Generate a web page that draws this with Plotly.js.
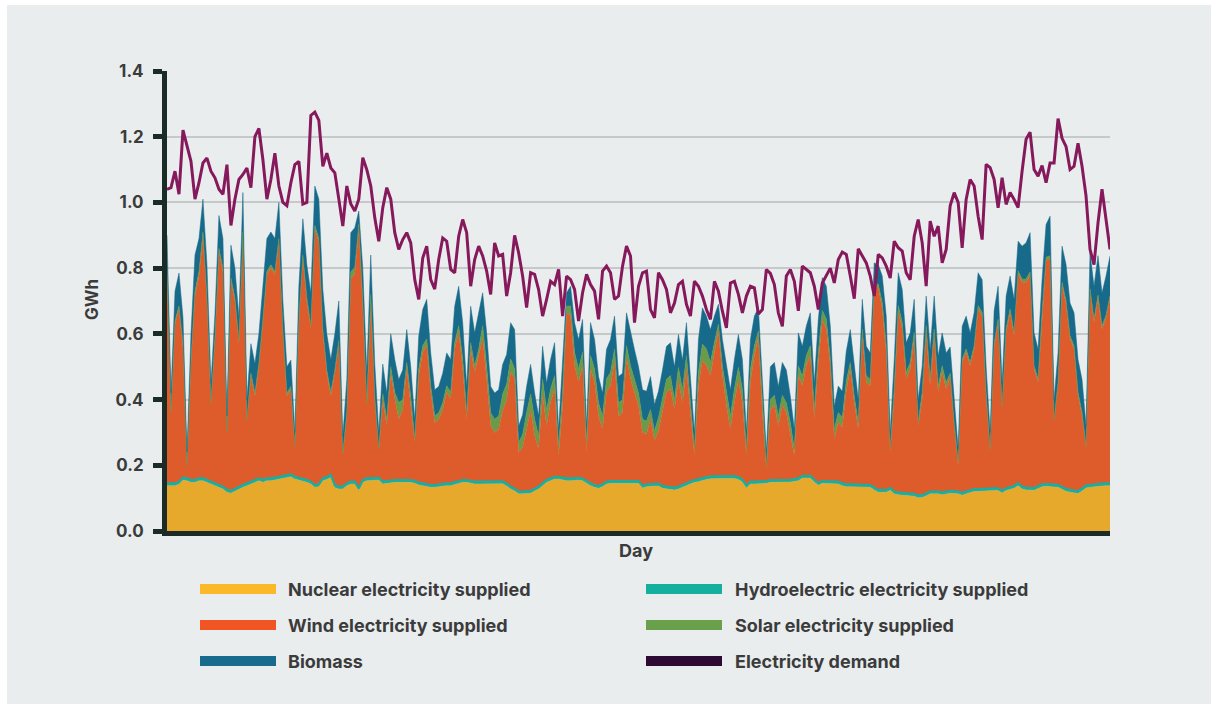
<!DOCTYPE html>
<html>
<head>
<meta charset="utf-8">
<script src="https://cdn.plot.ly/plotly-3.0.1.min.js"></script>
<style>
  html, body { margin: 0; padding: 0; background: #ffffff; width: 1211px; height: 704px; overflow: hidden; }
  #chart { position: absolute; left: 7px; top: 5px; width: 1204px; height: 699px; background: #e9edee; }
</style>
</head>
<body>
<div id="chart"></div>
<script>
// ---- Data (GWh per day) ----
const nuclear = [
  0.138,0.138,0.138,0.142,0.155,0.153,0.148,0.148,0.153,0.153,0.148,0.143,0.138,0.133,0.128,0.118,0.115,0.121,0.128,0.133,0.138,0.143,0.148,0.153,0.148,0.153,0.153,0.155,0.158,0.161,0.163,0.165,0.158,0.155,0.153,0.148,0.143,0.133,0.135,
  0.153,0.157,0.163,0.132,0.128,0.128,0.138,0.143,0.143,0.123,0.148,0.153,0.153,0.153,0.155,0.143,0.145,0.148,0.148,0.148,0.148,0.148,0.148,0.145,0.140,0.138,0.135,0.133,0.133,0.135,0.137,0.138,0.138,0.142,0.145,0.148,0.148,0.145,0.143,0.143,
  0.143,0.143,0.144,0.144,0.144,0.144,0.137,0.128,0.122,0.113,0.113,0.114,0.115,0.122,0.128,0.138,0.148,0.153,0.158,0.158,0.155,0.153,0.153,0.154,0.155,0.153,0.145,0.138,0.133,0.130,0.135,0.143,0.145,0.145,0.145,0.145,0.145,0.145,0.145,0.145,
  0.131,0.135,0.136,0.137,0.137,0.130,0.128,0.125,0.125,0.128,0.133,0.138,0.143,0.148,0.150,0.154,0.157,0.159,0.160,0.160,0.160,0.160,0.160,0.160,0.157,0.149,0.131,0.143,0.143,0.143,0.143,0.145,0.148,0.148,0.148,0.148,0.148,0.149,0.151,0.153,
  0.161,0.161,0.161,0.149,0.139,0.145,0.145,0.144,0.143,0.143,0.138,0.135,0.135,0.135,0.135,0.134,0.133,0.133,0.125,0.118,0.118,0.118,0.124,0.113,0.110,0.109,0.107,0.106,0.106,0.101,0.102,0.107,0.113,0.113,0.113,0.110,0.112,0.115,0.114,0.113,
  0.109,0.114,0.117,0.120,0.121,0.122,0.123,0.123,0.123,0.123,0.116,0.123,0.126,0.130,0.138,0.128,0.125,0.124,0.124,0.129,0.135,0.136,0.136,0.134,0.133,0.127,0.121,0.118,0.115,0.114,0.122,0.131,0.133,0.135,0.136,0.137,0.138,0.138
];

const hydro = [
  0.007,0.007,0.007,0.007,0.007,0.007,0.007,0.007,0.007,0.007,0.007,0.007,0.007,0.007,0.007,0.007,0.007,0.007,0.007,0.007,0.007,0.007,0.007,0.007,0.007,0.007,0.007,0.007,0.007,0.007,0.007,0.007,0.007,0.007,0.007,0.007,0.007,0.007,0.007,
  0.007,0.007,0.007,0.007,0.007,0.007,0.007,0.007,0.007,0.007,0.007,0.007,0.007,0.007,0.007,0.007,0.007,0.007,0.007,0.007,0.007,0.007,0.007,0.007,0.007,0.007,0.007,0.007,0.007,0.007,0.007,0.007,0.007,0.007,0.007,0.007,0.007,0.007,0.007,0.007,
  0.007,0.007,0.007,0.007,0.007,0.007,0.007,0.007,0.007,0.007,0.007,0.007,0.007,0.007,0.007,0.007,0.007,0.007,0.007,0.007,0.007,0.007,0.007,0.007,0.007,0.007,0.007,0.007,0.007,0.007,0.007,0.007,0.007,0.007,0.007,0.007,0.007,0.007,0.007,0.007,
  0.007,0.007,0.007,0.007,0.007,0.007,0.007,0.007,0.007,0.007,0.007,0.007,0.007,0.007,0.007,0.007,0.007,0.007,0.007,0.007,0.007,0.007,0.007,0.007,0.007,0.007,0.007,0.007,0.007,0.007,0.007,0.007,0.007,0.007,0.007,0.007,0.007,0.007,0.007,0.007,
  0.007,0.007,0.007,0.007,0.007,0.007,0.007,0.007,0.007,0.007,0.007,0.007,0.007,0.007,0.007,0.007,0.007,0.007,0.007,0.007,0.007,0.007,0.007,0.007,0.007,0.007,0.007,0.007,0.007,0.007,0.007,0.007,0.007,0.007,0.007,0.007,0.007,0.007,0.007,0.007,
  0.007,0.007,0.007,0.007,0.007,0.007,0.007,0.007,0.007,0.007,0.007,0.007,0.007,0.007,0.007,0.007,0.007,0.007,0.007,0.007,0.007,0.007,0.007,0.007,0.007,0.007,0.007,0.007,0.007,0.007,0.007,0.007,0.007,0.007,0.007,0.007,0.007,0.007
];

const wind = [
  0.645,0.21,0.485,0.526,0.398,0.035,0.355,0.56,0.615,0.735,0.545,0.235,0.435,0.71,0.655,0.17,0.638,0.572,0.435,0.76,0.19,0.32,0.255,0.34,0.48,0.62,0.64,0.618,0.715,0.432,0.24,0.258,0.09,0.473,0.67,0.545,0.465,0.78,0.738,
  0.445,0.315,0.242,0.341,0.435,0.098,0.206,0.618,0.633,0.794,0.525,0.22,0.53,0.238,0.083,0.248,0.168,0.325,0.247,0.186,0.215,0.338,0.235,0.117,0.326,0.399,0.423,0.282,0.19,0.198,0.226,0.277,0.257,0.405,0.453,0.339,0.185,0.402,0.333,0.384,
  0.435,0.313,0.169,0.149,0.159,0.216,0.253,0.349,0.334,0.119,0.134,0.189,0.245,0.161,0.115,0.267,0.165,0.232,0.268,0.063,0.218,0.505,0.495,0.343,0.291,0.344,0.087,0.349,0.313,0.213,0.168,0.273,0.291,0.362,0.198,0.208,0.372,0.311,0.27,0.228,
  0.162,0.153,0.197,0.131,0.161,0.223,0.287,0.301,0.238,0.323,0.25,0.349,0.21,0.075,0.286,0.358,0.34,0.307,0.377,0.443,0.306,0.215,0.143,0.225,0.294,0.236,0.092,0.303,0.384,0.439,0.21,0.038,0.215,0.228,0.165,0.228,0.205,0.144,0.072,0.313,
  0.274,0.336,0.366,0.184,0.368,0.489,0.463,0.353,0.13,0.181,0.17,0.285,0.351,0.248,0.168,0.454,0.312,0.302,0.614,0.616,0.551,0.419,0.109,0.29,0.549,0.499,0.349,0.38,0.472,0.212,0.293,0.491,0.322,0.475,0.302,0.366,0.313,0.348,0.199,0.08,
  0.397,0.423,0.379,0.427,0.548,0.526,0.28,0.115,0.43,0.505,0.252,0.475,0.533,0.458,0.637,0.622,0.625,0.647,0.362,0.317,0.513,0.68,0.685,0.194,0.303,0.613,0.563,0.459,0.432,0.291,0.222,0.117,0.587,0.493,0.565,0.471,0.501,0.562
];

const solar = [
  0.01,0.005,0.01,0.01,0.01,0.005,0.01,0.015,0.015,0.015,0.01,0.005,0.01,0.01,0.01,0.005,0.01,0.01,0.01,0.01,0.005,0.01,0.01,0.01,0.01,0.01,0.01,0.01,0.01,0.01,0.01,0.01,0.005,0.01,0.01,0.01,0.01,0.01,0.01,
  0.01,0.01,0.01,0.01,0.01,0.005,0.01,0.02,0.02,0.01,0.02,0.01,0.03,0.01,0.005,0.02,0.02,0.02,0.02,0.05,0.03,0.02,0.02,0.01,0.02,0.02,0.02,0.02,0.02,0.02,0.02,0.02,0.02,0.02,0.02,0.03,0.02,0.02,0.02,0.02,
  0.04,0.04,0.04,0.04,0.04,0.05,0.05,0.04,0.03,0.03,0.04,0.05,0.05,0.05,0.04,0.05,0.05,0.04,0.04,0.03,0.04,0.02,0.03,0.04,0.04,0.04,0.03,0.04,0.04,0.04,0.04,0.04,0.04,0.04,0.04,0.04,0.04,0.04,0.04,0.04,
  0.04,0.04,0.03,0.03,0.04,0.04,0.04,0.04,0.03,0.04,0.04,0.04,0.03,0.02,0.04,0.05,0.05,0.04,0.03,0.02,0.03,0.04,0.04,0.04,0.04,0.04,0.02,0.04,0.03,0.02,0.03,0.01,0.03,0.03,0.03,0.03,0.03,0.03,0.02,0.03,
  0.03,0.03,0.03,0.03,0.03,0.03,0.03,0.02,0.03,0.03,0.03,0.03,0.02,0.02,0.02,0.02,0.02,0.02,0.01,0.01,0.02,0.02,0.01,0.02,0.02,0.02,0.02,0.02,0.02,0.01,0.02,0.02,0.02,0.02,0.02,0.02,0.02,0.01,0.01,0.01,
  0.01,0.01,0.01,0.01,0.01,0.01,0.01,0.005,0.01,0.01,0.005,0.01,0.01,0.01,0.01,0.01,0.01,0.01,0.01,0.01,0.01,0.01,0.01,0.005,0.01,0.01,0.01,0.01,0.01,0.01,0.01,0.005,0.01,0.01,0.01,0.01,0.01,0.01
];

const biomass = [
  0.10,0.06,0.09,0.10,0.08,0.04,0.08,0.11,0.10,0.10,0.10,0.06,0.07,0.10,0.09,0.05,0.10,0.09,0.07,0.12,0.06,0.09,0.09,0.09,0.10,0.10,0.10,0.10,0.11,0.09,0.08,0.08,0.04,0.10,0.11,0.10,0.10,0.12,0.12,
  0.12,0.11,0.10,0.11,0.12,0.05,0.10,0.12,0.12,0.04,0.10,0.09,0.12,0.10,0.05,0.09,0.08,0.10,0.10,0.07,0.09,0.10,0.09,0.06,0.10,0.11,0.12,0.10,0.08,0.08,0.09,0.10,0.10,0.11,0.12,0.11,0.08,0.11,0.10,0.11,
  0.10,0.10,0.08,0.08,0.08,0.09,0.09,0.11,0.12,0.05,0.06,0.08,0.09,0.08,0.06,0.10,0.08,0.09,0.10,0.05,0.08,0.04,0.06,0.09,0.09,0.10,0.05,0.10,0.09,0.08,0.07,0.09,0.10,0.10,0.08,0.08,0.10,0.10,0.09,0.08,
  0.09,0.09,0.10,0.08,0.08,0.09,0.10,0.10,0.10,0.10,0.09,0.10,0.09,0.05,0.10,0.11,0.10,0.10,0.08,0.06,0.08,0.09,0.08,0.09,0.10,0.09,0.05,0.09,0.09,0.07,0.08,0.04,0.10,0.10,0.09,0.10,0.10,0.08,0.06,0.10,
  0.09,0.09,0.10,0.08,0.10,0.10,0.10,0.10,0.07,0.08,0.08,0.09,0.10,0.09,0.07,0.09,0.09,0.08,0.06,0.06,0.08,0.09,0.05,0.09,0.10,0.10,0.09,0.09,0.10,0.07,0.08,0.09,0.09,0.10,0.09,0.10,0.09,0.08,0.07,0.04,
  0.10,0.10,0.09,0.10,0.10,0.10,0.08,0.05,0.10,0.10,0.07,0.10,0.10,0.10,0.09,0.10,0.11,0.12,0.10,0.09,0.10,0.10,0.12,0.06,0.09,0.11,0.11,0.10,0.10,0.10,0.10,0.06,0.11,0.10,0.12,0.10,0.12,0.12
];

const demand = [
  1.04,1.045,1.095,1.025,1.22,1.17,1.125,1.01,1.06,1.12,1.135,1.095,1.075,1.04,1.025,1.115,0.93,1.01,1.07,1.085,1.105,1.045,1.20,1.225,1.13,1.01,1.07,1.15,1.05,1.0,0.99,1.06,1.115,1.125,0.995,1.0,1.265,1.275,1.25,
  1.11,1.15,1.105,1.09,1.01,0.928,1.05,0.995,0.974,1.01,1.136,1.10,1.05,0.953,0.882,0.984,1.045,1.01,0.908,0.857,0.887,0.908,0.877,0.765,0.705,0.831,0.867,0.765,0.736,0.826,0.892,0.882,0.796,0.786,0.897,0.948,0.908,0.745,0.826,0.867,
  0.837,0.791,0.72,0.877,0.837,0.842,0.715,0.786,0.90,0.847,0.776,0.68,0.786,0.781,0.735,0.654,0.705,0.76,0.75,0.796,0.654,0.776,0.765,0.735,0.639,0.725,0.781,0.75,0.73,0.644,0.791,0.806,0.786,0.705,0.715,0.806,0.867,0.837,0.634,0.745,
  0.786,0.791,0.674,0.649,0.786,0.765,0.735,0.664,0.694,0.75,0.76,0.69,0.654,0.76,0.745,0.715,0.674,0.644,0.76,0.73,0.669,0.618,0.755,0.76,0.72,0.664,0.715,0.745,0.74,0.66,0.674,0.796,0.784,0.75,0.664,0.623,0.776,0.796,0.76,0.67,
  0.806,0.796,0.786,0.745,0.674,0.755,0.776,0.80,0.755,0.826,0.849,0.842,0.776,0.707,0.859,0.836,0.816,0.776,0.715,0.842,0.831,0.806,0.77,0.882,0.862,0.852,0.786,0.765,0.897,0.948,0.877,0.745,0.943,0.897,0.928,0.816,0.857,0.99,1.03,1.0,
  0.862,1.009,1.07,1.05,0.958,0.887,1.116,1.106,1.07,0.984,1.075,0.994,1.03,1.009,0.984,1.095,1.192,1.214,1.10,1.08,1.112,1.06,1.12,1.12,1.255,1.195,1.17,1.10,1.11,1.18,1.11,1.02,0.857,0.811,0.938,1.04,0.948,0.857
];

const yTicks = [0, 0.2, 0.4, 0.6, 0.8, 1.0, 1.2, 1.4];
const yTickLabels = ['0.0', '0.2', '0.4', '0.6', '0.8', '1.0', '1.2', '1.4'];

const seriesNames = [
  'Nuclear electricity supplied', 'Hydroelectric electricity supplied',
  'Wind electricity supplied', 'Solar electricity supplied',
  'Biomass', 'Electricity demand'
];

// ---- Styling ----
const days = demand.map((_, i) => i + 1);
const fillCols = { nuclear: '#e7a92c', hydro: '#19aea0', wind: '#de5b2c', solar: '#6a9b46', biomass: '#176a8a' };
const swatchCols = ['#fbb829', '#14b09f', '#f05523', '#6aa04c', '#176b8d', '#2d0a33'];
const demandCol = '#86195b';
const axisCol = '#1b2c27';
const textCol = '#3b3b3b';
const FONT = 'Inter, Roboto, "Open Sans", Arial, sans-serif';

function area(name, y, col, lw, lc) {
  return {
    x: days, y: y, name: name, type: 'scatter', mode: 'lines',
    stackgroup: 'supply', fillcolor: col,
    line: { color: lc || col, width: lw, shape: 'linear' },
    hoverinfo: 'skip'
  };
}

const traces = [
  area(seriesNames[0], nuclear, fillCols.nuclear, 0.5),
  area(seriesNames[1], hydro, fillCols.hydro, 2.2),
  area(seriesNames[2], wind, fillCols.wind, 0.5),
  area(seriesNames[3], solar, fillCols.solar, 0.5),
  area(seriesNames[4], biomass, fillCols.biomass, 0.5),
  { x: days, y: demand, name: seriesNames[5], type: 'scatter', mode: 'lines',
    line: { color: demandCol, width: 3 }, hoverinfo: 'skip' }
];

// page-pixel helpers (div is offset 7,5 inside the page)
const W = 1204, H = 699, M = { l: 160, r: 101, t: 66, b: 173 };
const PW = W - M.l - M.r, PH = H - M.t - M.b;
const px = x => (x - 7 - M.l) / PW;
const py = y => 1 - (y - 5 - M.t) / PH;

const shapes = [];
const annotations = [];
const cols = [[200, 276, 286], [646, 722, 733]];
const rows = [589, 625, 661];
seriesNames.forEach((nm, i) => {
  const c = cols[i % 2], r = rows[Math.floor(i / 2)];
  shapes.push({ type: 'rect', xref: 'paper', yref: 'paper',
    x0: px(c[0]), x1: px(c[1]), y0: py(r + 5), y1: py(r - 5),
    fillcolor: swatchCols[i], line: { width: 0 } });
  annotations.push({ xref: 'paper', yref: 'paper', x: px(c[2]), y: py(r),
    xanchor: 'left', yanchor: 'middle', showarrow: false, text: nm,
    font: { family: FONT, size: 18, color: textCol, weight: 'bold' } });
});
annotations.push({ xref: 'paper', yref: 'paper', x: px(92), y: py(300), textangle: -90,
  xanchor: 'center', yanchor: 'middle', showarrow: false, text: 'GWh',
  font: { family: FONT, size: 17, color: textCol, weight: 'bold' } });
annotations.push({ xref: 'paper', yref: 'paper', x: px(636), y: py(550),
  xanchor: 'center', yanchor: 'middle', showarrow: false, text: 'Day',
  font: { family: FONT, size: 18, color: textCol, weight: 'bold' } });

const layout = {
  width: W, height: H,
  margin: M,
  paper_bgcolor: '#e9edee', plot_bgcolor: '#e9edee',
  showlegend: false,
  hovermode: false,
  font: { family: FONT, color: textCol },
  xaxis: {
    range: [1, days.length], showgrid: false, zeroline: false,
    showline: true, linecolor: axisCol, linewidth: 5,
    ticks: '', showticklabels: false, fixedrange: true
  },
  yaxis: {
    range: [0, 1.4], tickvals: yTicks, ticktext: yTickLabels,
    showgrid: true, gridcolor: '#c5c9ca', gridwidth: 2, zeroline: false,
    showline: true, linecolor: axisCol, linewidth: 5,
    ticks: 'outside', ticklen: 9, tickwidth: 5, tickcolor: axisCol,
    ticklabelstandoff: 6,
    tickfont: { family: FONT, size: 17, color: textCol, weight: 'bold' },
    fixedrange: true
  },
  shapes: shapes,
  annotations: annotations
};

Plotly.newPlot('chart', traces, layout, { displayModeBar: false, staticPlot: true });
</script>
</body>
</html>
